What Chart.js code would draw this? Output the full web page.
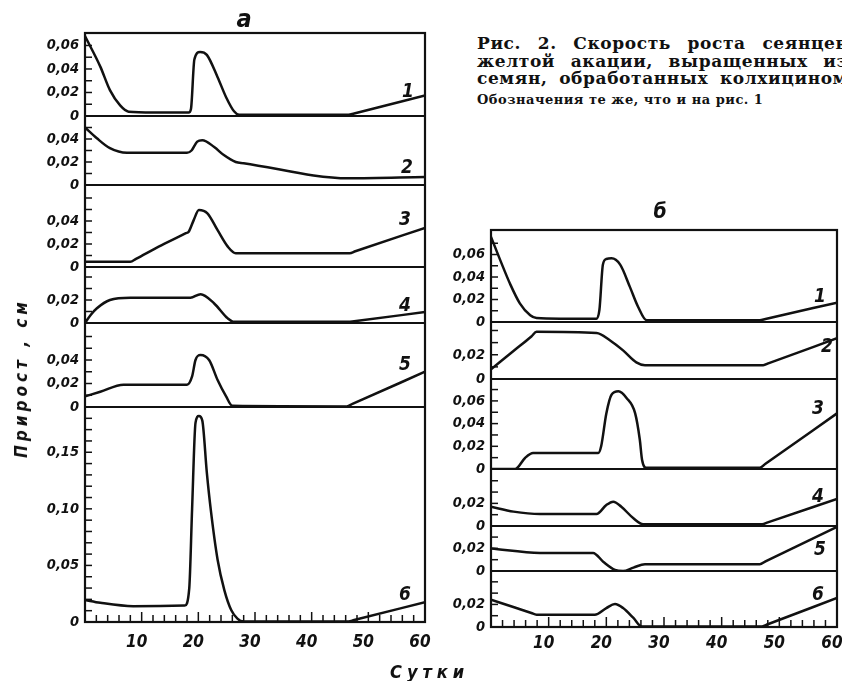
<!DOCTYPE html>
<html><head><meta charset="utf-8">
<script src="https://cdn.jsdelivr.net/npm/chart.js@4/dist/chart.umd.min.js"></script>
<style>
html,body{margin:0;padding:0;background:#fff;width:842px;height:681px;overflow:hidden;position:relative;}
canvas{position:absolute;}
.t{position:absolute;white-space:nowrap;color:#111;line-height:1;}
.c{transform:translate(-50%,-50%);}
.num{font:italic bold 19px 'DejaVu Sans Condensed','DejaVu Sans',sans-serif;}
.cap{position:absolute;left:477px;width:371px;display:flex;justify-content:space-between;white-space:nowrap;color:#111;line-height:1;font:bold 17px 'DejaVu Serif',serif;letter-spacing:0.6px;}
.cap2{font:bold 13px 'DejaVu Serif',serif;letter-spacing:0.5px;}
</style></head>
<body>
<canvas id="ca" width="440" height="681" style="left:0;top:0;width:440px;height:681px"></canvas>
<canvas id="cb" width="432" height="491" style="left:420px;top:190px;width:432px;height:491px"></canvas>

<div class="t c" style="left:244px;top:18px;font:italic bold 25px 'DejaVu Sans Condensed','DejaVu Sans',sans-serif;">а</div>
<div class="t c" style="left:660px;top:211px;font:italic bold 21px 'DejaVu Sans Condensed','DejaVu Sans',sans-serif;">б</div>

<div class="cap" style="top:33px;"><span>Рис.</span><span>2.</span><span>Скорость</span><span>роста</span><span>сеянцев</span></div>
<div class="cap" style="top:51px;"><span>желтой</span><span>акации,</span><span>выращенных</span><span>из</span></div>
<div class="cap" style="top:68px;"><span>семян,</span><span>обработанных</span><span>колхицином</span></div>
<div class="t cap2" style="left:477px;top:92px;">Обозначения те же, что и на рис. 1</div>

<div class="t num c" style="left:408px;top:90px;">1</div>
<div class="t num c" style="left:407px;top:166px;">2</div>
<div class="t num c" style="left:405px;top:218px;">3</div>
<div class="t num c" style="left:405px;top:304px;">4</div>
<div class="t num c" style="left:405px;top:363px;">5</div>
<div class="t num c" style="left:405px;top:593px;">6</div>
<div class="t num c" style="left:820px;top:295px;">1</div>
<div class="t num c" style="left:827px;top:345px;">2</div>
<div class="t num c" style="left:818px;top:407px;">3</div>
<div class="t num c" style="left:818px;top:495px;">4</div>
<div class="t num c" style="left:820px;top:548px;">5</div>
<div class="t num c" style="left:818px;top:593px;">6</div>

<div class="t" style="left:390px;top:661px;font:italic bold 18px 'DejaVu Sans Condensed','DejaVu Sans',sans-serif;letter-spacing:5px;">Сутки</div>
<div class="t c" style="left:21px;top:378px;transform:translate(-50%,-50%) rotate(-90deg);font:italic bold 17px 'DejaVu Sans Condensed','DejaVu Sans',sans-serif;letter-spacing:4px;">Прирост , см</div>

<script>
// ---- axes / ticks ----
const dayTicks = [10, 20, 30, 40, 50, 60];
const aTickVals = [[0,0.02,0.04,0.06],[0,0.02,0.04],[0,0.02,0.04],[0,0.02],[0,0.02,0.04],[0,0.05,0.10,0.15]];
const aMax = [0.0706, 0.060, 0.0713, 0.0487, 0.0715, 0.190];
const bTickVals = [[0,0.02,0.04,0.06],[0,0.02],[0,0.02,0.04,0.06],[0,0.02],[0,0.02],[0,0.02]];
const bMax = [0.0818, 0.047, 0.0793, 0.0504, 0.0398, 0.0496];

// ---- panel а (series 1–6): days and growth, cm ----
const a1X = [0,2.7,4.4,6.2,7.7,12,18.3,18.7,19.3,20.3,21.5,23.4,24.9,26.3,27.2,35,46.5,47.5,60];
const a1Y = [0.068,0.042,0.022,0.009,0.0037,0.003,0.003,0.006,0.048,0.0545,0.052,0.033,0.016,0.004,0.001,0.001,0.001,0.0022,0.0175];
const a2X = [0,2.1,4.4,7.4,12,18,18.8,19.8,20.7,22.8,24.5,26.6,28,46.5,60];
const a2Y = [0.050,0.0406,0.032,0.028,0.028,0.028,0.030,0.0377,0.039,0.033,0.026,0.020,0.019,0.0058,0.007];
const a3X = [0,8,9,13,17.8,18.3,19.2,20.1,21.6,23.4,25.2,26.6,46.7,47.7,60];
const a3Y = [0.0046,0.0046,0.0071,0.0177,0.0294,0.0307,0.041,0.0496,0.0467,0.032,0.0177,0.012,0.012,0.0137,0.034];
const a4X = [0,1,2.1,4.4,8,18.6,20.4,22.8,25.2,26.3,46.5,47.5,60];
const a4Y = [0,0.007,0.0128,0.020,0.022,0.022,0.025,0.017,0.004,0.001,0.001,0.0016,0.0095];
const a5X = [0,2.7,6.8,18,18.9,19.5,20.4,21.9,23.4,24.9,26,46.2,47.2,60];
const a5Y = [0.009,0.013,0.019,0.019,0.026,0.040,0.0443,0.040,0.023,0.009,0.001,0.0005,0.0026,0.030];
const a6X = [0,2.7,8.5,17.6,18.4,18.9,19.5,20.1,20.7,21.5,22.2,23.4,24.6,25.8,26.9,28,46.5,47.5,60];
const a6Y = [0.0195,0.017,0.014,0.0145,0.030,0.100,0.176,0.182,0.178,0.132,0.099,0.055,0.028,0.0106,0.003,0.0005,0.0005,0.0018,0.0175];

// ---- panel б (series 1–6) ----
const b1X = [0,1.6,3.3,5,6.8,7.9,12,18.3,18.8,19.4,20,20.9,22.4,24.1,25.5,27,46.6,47.6,60];
const b1Y = [0.0757,0.055,0.034,0.0166,0.006,0.0035,0.003,0.003,0.0107,0.051,0.056,0.0566,0.051,0.031,0.0136,0.0015,0.0015,0.0027,0.0172];
const b2X = [0,4,7,7.9,18.3,20.6,22.9,25.2,26.7,47.2,48.2,60];
const b2Y = [0.008,0.0235,0.0351,0.039,0.038,0.032,0.0236,0.0137,0.0114,0.0114,0.0131,0.0336];
const b3X = [0,4.2,5.9,7.3,18.6,19.1,20,20.9,22.1,23.5,25,25.8,26.2,27,46.6,47.6,60];
const b3Y = [0,0,0.0097,0.014,0.014,0.020,0.049,0.0655,0.0684,0.0626,0.049,0.026,0.008,0.001,0.001,0.0046,0.049];
const b4X = [0,3.9,8.5,18.3,20,21.2,22.6,24.7,26.4,47,48,60];
const b4Y = [0.017,0.0127,0.0106,0.0106,0.0186,0.0215,0.017,0.0068,0.0015,0.0015,0.0032,0.0239];
const b5X = [0,8.5,17.7,19.5,21.5,22.9,24.7,26.7,46.6,47.6,60];
const b5Y = [0.0198,0.016,0.016,0.008,0.001,0,0.003,0.006,0.006,0.0085,0.039];
const b6X = [0,4,7,7.9,18,20,21.5,22.9,24.7,26.1,47,48,60];
const b6Y = [0.0242,0.0175,0.0124,0.0109,0.0109,0.0168,0.0203,0.0168,0.008,0.0005,0.0005,0.0024,0.0257];

const aSeries = [[a1X,a1Y],[a2X,a2Y],[a3X,a3Y],[a4X,a4Y],[a5X,a5Y],[a6X,a6Y]];
const bSeries = [[b1X,b1Y],[b2X,b2Y],[b3X,b3Y],[b4X,b4Y],[b5X,b5Y],[b6X,b6Y]];

const INK = '#111';
const tickFont = {family:"'DejaVu Sans Condensed','DejaVu Sans',sans-serif", style:'italic', weight:'bold', size:14.5};
const xFont = {family:"'DejaVu Sans Condensed','DejaVu Sans',sans-serif", style:'italic', weight:'bold', size:17};
const fmt = v => v === 0 ? '0' : v.toFixed(2).replace('.', ',');

const decor = {
  id: 'decor',
  afterDatasetsDraw(chart) {
    const {ctx, chartArea: ca, scales} = chart;
    const line = (x1,y1,x2,y2) => { ctx.beginPath(); ctx.moveTo(x1,y1); ctx.lineTo(x2,y2); ctx.stroke(); };
    ctx.save();
    ctx.strokeStyle = INK;
    Object.values(scales).forEach(s => {
      if (s.axis === 'y') {
        ctx.lineWidth = 2.2;
        const y0 = s.getPixelForValue(0);
        line(ca.left, y0, ca.right, y0);
        ctx.lineWidth = 1.5;
        for (let k = 1; k * 0.01 < s.max - 0.003; k++) {
          const y = s.getPixelForValue(k * 0.01);
          line(ca.left, y, ca.left + 7, y);
        }
      } else {
        ctx.lineWidth = 1.5;
        for (let d = 2; d < 60; d += 2) {
          const x = s.getPixelForValue(d);
          line(x, ca.bottom, x, ca.bottom - (d % 10 === 0 ? 10 : 7));
        }
      }
    });
    ctx.lineWidth = 2.2;
    ctx.strokeRect(ca.left, ca.top, ca.right - ca.left, ca.bottom - ca.top);
    ctx.restore();
  }
};

function makeChart(id, series, maxes, tickVals, weights, conf) {
  const scales = {
    x: {
      type: 'linear', position: 'bottom', min: 0, max: 60,
      grid: {display: false, drawTicks: false}, border: {display: false},
      afterBuildTicks: s => { s.ticks = dayTicks.map(v => ({value: v})); },
      afterFit: s => { s.height = conf.xH; s.paddingLeft = 0; s.paddingRight = 0; },
      ticks: {padding: conf.xPad, labelOffset: -5, autoSkip: false, maxRotation: 0, color: INK, font: xFont, callback: v => String(v)}
    }
  };
  const datasets = [];
  series.forEach((sr, i) => {
    const yid = 'y' + i;
    scales[yid] = {
      type: 'linear', position: 'left', stack: 'panel', stackWeight: weights[i], weight: 10 - i,
      min: 0, max: maxes[i], offset: false,
      grid: {display: false, drawTicks: false}, border: {display: false},
      afterBuildTicks: s => { s.ticks = tickVals[i].map(v => ({value: v})); },
      afterFit: s => { s.width = conf.yW; s.paddingTop = 0; s.paddingBottom = 0; },
      ticks: {padding: 6, autoSkip: false, color: INK, font: tickFont, callback: v => fmt(v)}
    };
    datasets.push({
      data: sr[0].map((x, j) => ({x, y: sr[1][j]})),
      xAxisID: 'x', yAxisID: yid,
      borderColor: INK, borderWidth: 2.5, pointRadius: 0, fill: false,
      cubicInterpolationMode: 'monotone', borderJoinStyle: 'round', borderCapStyle: 'round'
    });
  });
  return new Chart(document.getElementById(id), {
    type: 'line',
    data: {datasets},
    options: {
      responsive: false, animation: false, devicePixelRatio: 1,
      layout: {padding: {left: 0, right: conf.padR, top: conf.padT, bottom: 0}},
      plugins: {legend: {display: false}, tooltip: {enabled: false}},
      scales
    },
    plugins: [decor]
  });
}

makeChart('ca', aSeries, aMax, aTickVals, [83, 69, 82, 56, 84, 215], {yW: 85, xH: 59, xPad: 10, padR: 15, padT: 33});
makeChart('cb', bSeries, bMax, bTickVals, [92, 57, 90, 57, 45, 56], {yW: 71, xH: 54, xPad: 6, padR: 15, padT: 40});
</script>
</body></html>
